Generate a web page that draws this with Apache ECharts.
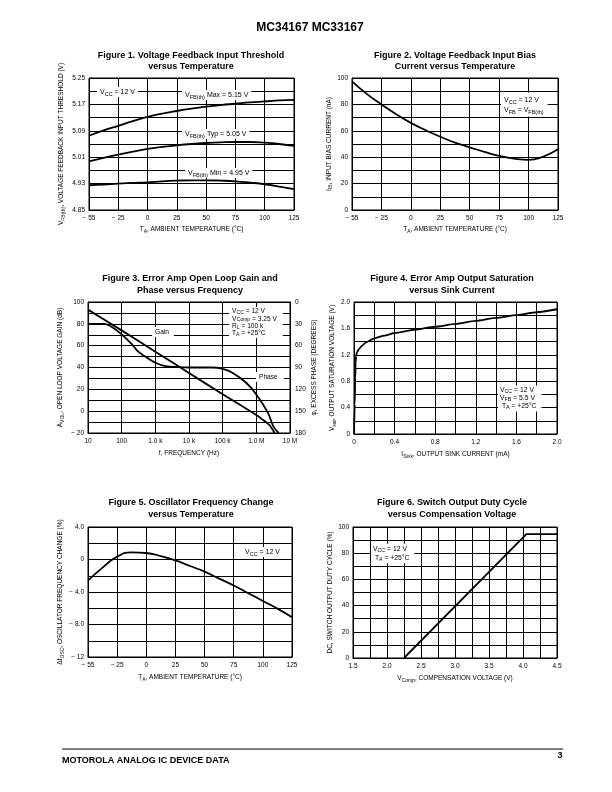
<!DOCTYPE html>
<html><head><meta charset="utf-8">
<script src="https://cdn.jsdelivr.net/npm/echarts@6/dist/echarts.min.js"></script>
<style>html,body{margin:0;padding:0;background:#fff}#c{width:612px;height:792px}</style>
</head><body><div id="c"></div>
<script>
const FONT = '"Liberation Sans", Arial, Helvetica, sans-serif';

// ---------- DATA ----------
// Temperature categories (grid is drawn with equal divisions; half steps between labelled ticks)
const tempCategories = ['-55','-40','-25','-12.5','0','12.5','25','37.5','50','62.5','75','87.5','100','112.5','125'];

// Figure 1: VFB(th) (V)
const fig1Max = [5.075,5.091,5.105,5.119,5.132,5.142,5.150,5.157,5.163,5.168,5.172,5.176,5.179,5.182,5.184];
const fig1Typ = [4.997,5.008,5.018,5.027,5.035,5.041,5.046,5.050,5.053,5.055,5.056,5.056,5.054,5.050,5.044];
const fig1Min = [4.925,4.927,4.930,4.932,4.934,4.937,4.939,4.940,4.940,4.939,4.937,4.933,4.928,4.921,4.913];
const fig1YTicks = ['4.85','4.93','5.01','5.09','5.17','5.25'];

// Figure 2: IIB (nA)
const fig2Bias = [97.5,88,80,72.5,66,60.5,55.5,51,47.5,44,41,39,38,40.5,46];
const fig2YTicks = [0,20,40,60,80,100];

// Figure 3: gain (dB) and phase (deg) vs frequency (Hz)
const fig3GainFreq = [10,100,1e3,1e4,1e5,1e6,1.5e6,2.5e6,3.5e6];
const fig3Gain     = [93,74,54.5,35,15.5,-3.5,-7.5,-13,-20];
const fig3PhaseFreq = [10,30,50,100,200,300,500,1e3,2e3,5e3,1e4,5e4,1e5,2e5,5e5,1e6,2.2e6,3.2e6,4.6e6];
const fig3Phase     = [30,30,34,44.5,58,67.5,75,83.5,88,89.5,90,90,92,97.5,111,127,152,171,180];
const fig3FreqLabels = ['10','100','1.0 k','10 k','100 k','1.0 M','10 M'];
const fig3GainTicks = [-20,0,20,40,60,80,100];
const fig3GainLabels = ['− 20','0','20','40','60','80','100'];
const fig3PhaseTicks = [0,30,60,90,120,150,180];

// Figure 4: Vsat (V) vs ISink (mA)
const fig4Sink = [0,0.007,0.012,0.016,0.02,0.03,0.05,0.08,0.12,0.2,0.3,0.4,0.6,0.8,1.0,1.2,1.4,1.6,1.8,2.0];
const fig4Vsat = [0,0.45,0.85,1.07,1.18,1.24,1.29,1.34,1.39,1.45,1.49,1.53,1.58,1.625,1.67,1.715,1.76,1.80,1.845,1.89];
const fig4Ticks = [0,0.4,0.8,1.2,1.6,2.0];
const fig4Labels = ['0','0.4','0.8','1.2','1.6','2.0'];

// Figure 5: delta fOSC (%)
const fig5Change = [-2.6,-1.0,0.35,0.88,0.8,0.42,-0.1,-0.8,-1.5,-2.35,-3.2,-4.15,-5.1,-6.05,-7.1];
const fig5YTicks = [-12,-8,-4,0,4];
const fig5YLabels = ['− 12','− 8.0','− 4.0','0','4.0'];

// Figure 6: duty cycle (%) vs VComp (V)
const fig6VComp = [2.25,4.05,4.5];
const fig6Duty  = [0,94.5,94.5];
const fig6XTicks = [1.5,2.0,2.5,3.0,3.5,4.0,4.5];
const fig6XLabels = ['1.5','2.0','2.5','3.0','3.5','4.0','4.5'];
const fig6YTicks = [0,20,40,60,80,100];

// ---------- HELPERS ----------
const pick = (vals, labels) => v => {
  const i = vals.findIndex(t => Math.abs(Number(t) - v) < 1e-6);
  return i >= 0 ? (labels ? labels[i] : String(vals[i])) : '';
};
const minusFmt = v => (String(v).charAt(0) === '-' ? '− ' + String(v).slice(1) : String(v));

const lineSty = {color:'#000', width:1};
const labelSty = (extra) => Object.assign({color:'#000', fontSize:6.5, fontFamily:FONT, margin:4}, extra || {});
const nameSty = {
  color:'#000', fontSize:6.5, fontFamily:FONT, lineHeight:9,
  rich: {
    s: {color:'#000', fontSize:5, fontFamily:FONT, verticalAlign:'bottom', lineHeight:5}
  }
};

function valAxis(o) {
  return Object.assign({
    type:'value',
    axisLine:{show:true, onZero:false, lineStyle:lineSty},
    axisTick:{show:false},
    splitLine:{show:true, lineStyle:lineSty},
    nameLocation:'middle',
    nameTextStyle:nameSty
  }, o);
}
function tempAxis(gi, gap) {
  return {
    type:'category', gridIndex:gi, data:tempCategories, boundaryGap:false,
    axisLine:{show:true, onZero:false, lineStyle:lineSty},
    axisTick:{show:false},
    axisLabel:labelSty({interval:1, margin:5, formatter:minusFmt}),
    splitLine:{show:true, interval:1, lineStyle:lineSty},
    name:'T{s|A}, AMBIENT TEMPERATURE (°C)', nameLocation:'middle', nameGap:gap, nameTextStyle:nameSty
  };
}

const G = [
  {left:89,  top:78,  width:205, height:132},
  {left:352, top:78,  width:206, height:132},
  {left:88,  top:302, width:202, height:131},
  {left:354, top:302, width:203, height:132},
  {left:88,  top:527, width:204, height:130},
  {left:353, top:527, width:204, height:131}
];

const xAxis = [
  tempAxis(0, 15),
  tempAxis(1, 15),
  valAxis({type:'log', logBase:10, gridIndex:2, min:10, max:1e7,
    axisLabel:labelSty({margin:5, formatter:v => fig3FreqLabels[Math.round(Math.log10(v)) - 1] || ''}),
    minorSplitLine:{show:false},
    name:'f, FREQUENCY (Hz)', nameGap:16}),
  valAxis({gridIndex:3, min:0, max:2, interval:0.2,
    axisLabel:labelSty({margin:5, formatter:pick(fig4Ticks, fig4Labels)}),
    name:'I{s|Sink}, OUTPUT SINK CURRENT (mA)', nameGap:16}),
  tempAxis(4, 16),
  valAxis({gridIndex:5, min:1.5, max:4.5, interval:0.25,
    axisLabel:labelSty({margin:5, formatter:pick(fig6XTicks, fig6XLabels)}),
    name:'V{s|Comp}, COMPENSATION VOLTAGE (V)', nameGap:16})
];

const yAxis = [
  valAxis({gridIndex:0, min:4.85, max:5.25, interval:0.04,
    axisLabel:labelSty({formatter:v => { const s = v.toFixed(2); return fig1YTicks.indexOf(s) >= 0 ? s : ''; }}),
    name:'V{s|FB(th)}, VOLTAGE FEEDBACK INPUT THRESHOLD (V)', nameGap:23}),
  valAxis({gridIndex:1, min:0, max:100, interval:10,
    axisLabel:labelSty({formatter:pick(fig2YTicks)}),
    name:'I{s|IB}, INPUT BIAS CURRENT (nA)', nameGap:15}),
  valAxis({gridIndex:2, min:-20, max:100, interval:10,
    axisLabel:labelSty({formatter:pick(fig3GainTicks, fig3GainLabels)}),
    name:'A{s|VOL}, OPEN LOOP VOLTAGE GAIN (dB)', nameGap:23}),
  valAxis({gridIndex:2, position:'right', min:0, max:180, interval:30, inverse:true,
    splitLine:{show:false},
    axisLabel:labelSty({margin:5, formatter:pick(fig3PhaseTicks)}),
    name:'φ, EXCESS PHASE (DEGREES)', nameRotate:90, nameGap:16}),
  valAxis({gridIndex:3, min:0, max:2, interval:0.2,
    axisLabel:labelSty({formatter:pick(fig4Ticks, fig4Labels)}),
    name:'V{s|sat}, OUTPUT SATURATION VOLTAGE (V)', nameGap:16}),
  valAxis({gridIndex:4, min:-12, max:4, interval:2,
    axisLabel:labelSty({formatter:pick(fig5YTicks, fig5YLabels)}),
    name:'Δf{s|OSC}, OSCILLATOR FREQUENCY CHANGE (%)', nameGap:23}),
  valAxis({gridIndex:5, min:0, max:100, interval:10,
    axisLabel:labelSty({formatter:pick(fig6YTicks)}),
    name:'DC, SWITCH OUTPUT DUTY CYCLE (%)', nameGap:16})
];

const lb = (o) => Object.assign({type:'line', showSymbol:false, symbol:'none', silent:true,
  lineStyle:{color:'#000', width:1.8}}, o);

const series = [
  lb({xAxisIndex:0, yAxisIndex:0, data:fig1Max, smooth:0.5}),
  lb({xAxisIndex:0, yAxisIndex:0, data:fig1Typ, smooth:0.5}),
  lb({xAxisIndex:0, yAxisIndex:0, data:fig1Min, smooth:0.5}),
  lb({xAxisIndex:1, yAxisIndex:1, data:fig2Bias, smooth:0.5}),
  lb({xAxisIndex:2, yAxisIndex:2, data:fig3GainFreq.map((f,i)=>[f, fig3Gain[i]]), smooth:0.2}),
  lb({xAxisIndex:2, yAxisIndex:3, data:fig3PhaseFreq.map((f,i)=>[f, fig3Phase[i]]), smooth:0.3}),
  lb({xAxisIndex:3, yAxisIndex:4, data:fig4Sink.map((x,i)=>[x, fig4Vsat[i]]), smooth:0.2, smoothMonotone:'x'}),
  lb({xAxisIndex:4, yAxisIndex:5, data:fig5Change, smooth:0.5}),
  lb({xAxisIndex:5, yAxisIndex:6, data:fig6VComp.map((x,i)=>[x, fig6Duty[i]])})
];

// ---------- TEXT ----------
const annRich = (fs, ss, lh) => ({
  s:{fill:'#000', fontSize:ss, fontFamily:FONT, verticalAlign:'bottom', lineHeight:Math.round(lh*0.55)}
});
function ann(x, y, text, opt) {
  opt = opt || {};
  const fs = opt.fs || 7, ss = opt.ss || 5.5, lh = opt.lh || 9;
  return {
    type:'text', x:x, y:y, z:100, silent:true,
    style:{
      text:text, fill:'#000', fontSize:fs, fontFamily:FONT, lineHeight:lh,
      align:opt.align || 'left', textAlign:opt.align || 'left',
      verticalAlign:'middle', textVerticalAlign:'middle',
      backgroundColor: opt.bg === false ? null : '#fff',
      padding: opt.pad || [1,3,0,3],
      rich: annRich(fs, ss, lh)
    }
  };
}
function title(x, y, text) {
  return {
    type:'text', x:x, y:y, z:100, silent:true,
    style:{text:text, fill:'#000', fontSize:9, fontWeight:'bold', fontFamily:FONT, lineHeight:11.7,
      align:'center', textAlign:'center', verticalAlign:'middle', textVerticalAlign:'middle'}
  };
}

const graphic = [
  {type:'text', x:310, y:28, z:100, style:{text:'MC34167 MC33167', fill:'#000', fontSize:12, fontWeight:'bold', fontFamily:FONT,
    align:'center', textAlign:'center', verticalAlign:'middle', textVerticalAlign:'middle'}},
  title(191, 61, 'Figure 1. Voltage Feedback Input Threshold\nversus Temperature'),
  title(455, 61, 'Figure 2. Voltage Feedback Input Bias\nCurrent versus Temperature'),
  title(190, 284.5, 'Figure 3. Error Amp Open Loop Gain and\nPhase versus Frequency'),
  title(452, 284.5, 'Figure 4. Error Amp Output Saturation\nversus Sink Current'),
  title(191, 508.5, 'Figure 5. Oscillator Frequency Change\nversus Temperature'),
  title(452, 508.5, 'Figure 6. Switch Output Duty Cycle\nversus Compensation Voltage'),

  ann(97, 92, 'V{s|CC} = 12 V'),
  ann(182, 95, 'V{s|FB(th)} Max = 5.15 V'),
  ann(182, 134, 'V{s|FB(th)} Typ = 5.05 V'),
  ann(185, 173, 'V{s|FB(th)} Min = 4.95 V'),

  ann(501, 104.5, 'V{s|CC} = 12 V\nV{s|FB} = V{s|FB(th)}', {lh:10.5, pad:[2,4,1,3]}),

  ann(229, 322.5, 'V{s|CC} = 12 V\nV{s|Comp} = 3.25 V\nR{s|L} = 100 k\nT{s|A} = +25°C', {fs:6.6, ss:5.2, lh:7.3, pad:[1,6,1,3]}),
  ann(152, 332, 'Gain', {fs:6.6, pad:[1,5,0,3]}),
  ann(256, 377, 'Phase', {fs:6.6, pad:[1,6,0,3]}),

  ann(498, 398.5, 'V{s|CC} = 12 V\nV{s|FB} = 5.5 V\n T{s|A} = +25°C', {fs:6.8, ss:5.3, lh:8, pad:[1,5,1,2]}),

  ann(242, 552, 'V{s|CC} = 12 V', {pad:[1,6,0,3]}),

  ann(371, 553.5, 'V{s|CC} = 12 V\n T{s|A} = +25°C', {fs:6.8, ss:5.3, lh:8.7, pad:[1,5,1,2]}),

  {type:'line', z:100, silent:true, shape:{x1:62, y1:749, x2:563, y2:749}, style:{stroke:'#000', lineWidth:1.2}},
  {type:'text', x:62, y:761, z:100, style:{text:'MOTOROLA ANALOG IC DEVICE DATA', fill:'#000', fontSize:9, fontWeight:'bold', fontFamily:FONT,
    align:'left', textAlign:'left', verticalAlign:'middle', textVerticalAlign:'middle'}},
  {type:'text', x:560, y:756, z:100, style:{text:'3', fill:'#000', fontSize:9, fontWeight:'bold', fontFamily:FONT,
    align:'center', textAlign:'center', verticalAlign:'middle', textVerticalAlign:'middle'}}
];

const chart = echarts.init(document.getElementById('c'), null, {renderer:'canvas', width:612, height:792});
chart.setOption({
  animation:false,
  backgroundColor:'#fff',
  grid:G.map(g => Object.assign({show:true, borderColor:'#000', borderWidth:1, backgroundColor:'transparent',
    containLabel:false, outerBoundsMode:'none'}, g)),
  xAxis:xAxis,
  yAxis:yAxis,
  series:series,
  graphic:graphic
});
</script>
</body></html>
